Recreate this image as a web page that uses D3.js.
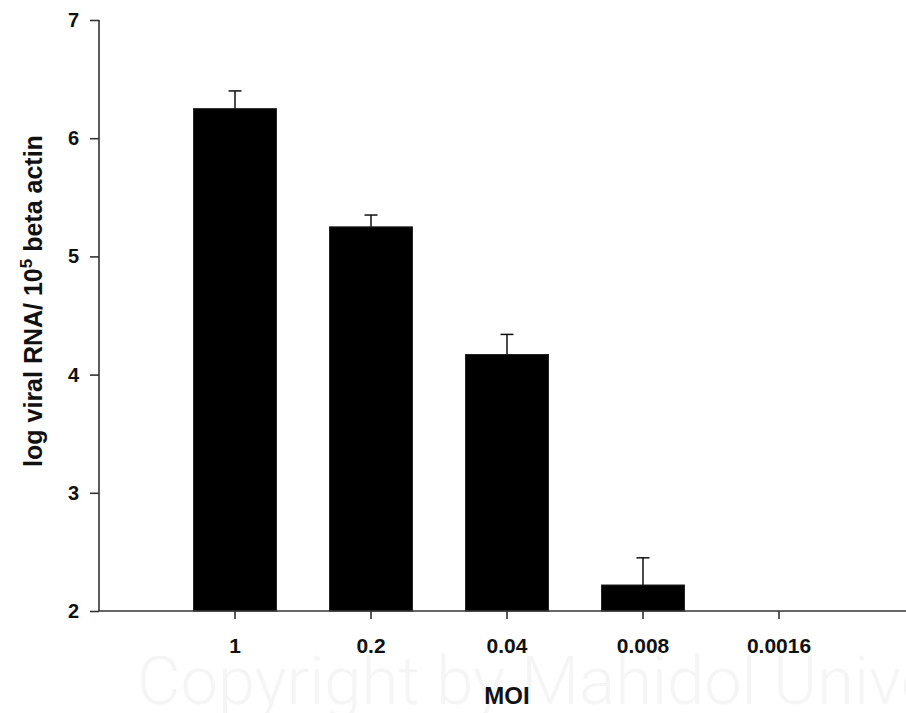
<!DOCTYPE html>
<html>
<head>
<meta charset="utf-8">
<script src="https://cdn.jsdelivr.net/npm/d3@7"></script>
<style>
  html, body { margin: 0; padding: 0; background: #fff; }
  svg { display: block; font-family: "Liberation Sans", Arial, sans-serif; }
</style>
</head>
<body>
<svg id="chart" width="906" height="713"></svg>
<script>
// MOI dilution series and measured log viral RNA per 10^5 beta actin
const categories = ["1", "0.2", "0.04", "0.008", "0.0016"];
const means      = [6.25, 5.25, 4.17, 2.22, null];
const errors     = [0.15, 0.10, 0.17, 0.23, null];
const yTicks     = [2, 3, 4, 5, 6, 7];

const svg = d3.select("#chart");

const axisLeft = 99, axisRight = 906;
const plotTop = 20, plotBottom = 611;

const y = d3.scaleLinear().domain([2, 7]).range([plotBottom, plotTop]);
const x = d3.scaleBand()
  .domain(categories)
  .range([167, 847])
  .paddingInner(0.39)
  .paddingOuter(0.195);

// faint copyright line along the bottom
svg.append("text")
  .attr("x", 137).attr("y", 704)
  .attr("font-size", 67)
  .attr("font-weight", 300)
  .attr("font-family", "Roboto, 'Liberation Sans', sans-serif")
  .attr("fill", "#f5f5f5")
  .text("Copyright by Mahidol University");

const axisColor = "#333";

// bars
const data = categories.map((c, i) => ({ c, v: means[i], e: errors[i] }))
  .filter(d => d.v != null);

svg.append("g").selectAll("rect").data(data).join("rect")
  .attr("x", d => x(d.c))
  .attr("width", x.bandwidth())
  .attr("y", d => y(d.v))
  .attr("height", d => y(2) - y(d.v))
  .attr("fill", "#000")
  .attr("stroke", "#222")
  .attr("stroke-width", 1);

// upper error bars
const eb = svg.append("g").attr("stroke", "#111").attr("stroke-width", 1.5);
eb.selectAll("line.v").data(data).join("line").attr("class", "v")
  .attr("x1", d => x(d.c) + x.bandwidth() / 2)
  .attr("x2", d => x(d.c) + x.bandwidth() / 2)
  .attr("y1", d => y(d.v))
  .attr("y2", d => y(d.v + d.e));
eb.selectAll("line.cap").data(data).join("line").attr("class", "cap")
  .attr("x1", d => x(d.c) + x.bandwidth() / 2 - 6.5)
  .attr("x2", d => x(d.c) + x.bandwidth() / 2 + 6.5)
  .attr("y1", d => y(d.v + d.e))
  .attr("y2", d => y(d.v + d.e));

// y axis
const yAxis = svg.append("g")
  .attr("transform", `translate(${axisLeft},0)`)
  .call(d3.axisLeft(y).tickValues(yTicks).tickFormat(d3.format("d"))
    .tickSize(9).tickPadding(11));
yAxis.select(".domain").attr("d", `M0,${plotTop}V${plotBottom}`);
yAxis.selectAll(".tick text").attr("font-size", 20);

// x axis
const xAxis = svg.append("g")
  .attr("transform", `translate(0,${plotBottom})`)
  .call(d3.axisBottom(x).tickSize(8).tickPadding(19));
xAxis.select(".domain").attr("d", `M${axisLeft},0H${axisRight}`);
xAxis.selectAll(".tick text").attr("font-size", 21);

svg.selectAll(".domain").attr("stroke", axisColor).attr("stroke-width", 1.6);
svg.selectAll(".tick line").attr("stroke", axisColor).attr("stroke-width", 1.6);
svg.selectAll(".tick text")
  .attr("font-weight", "bold").attr("fill", "#111")
  .attr("font-family", "'Liberation Sans', Arial, sans-serif");

// axis titles
svg.append("text")
  .attr("x", x.range()[0] + (x.range()[1] - x.range()[0]) / 2)
  .attr("y", 704)
  .attr("text-anchor", "middle")
  .attr("font-size", 24).attr("font-weight", "bold").attr("fill", "#111")
  .text("MOI");

const yTitle = svg.append("text")
  .attr("transform", "translate(42,301) rotate(-90)")
  .attr("text-anchor", "middle")
  .attr("font-size", 25).attr("font-weight", "bold").attr("fill", "#111");
yTitle.append("tspan").text("log viral RNA/ 10");
yTitle.append("tspan").attr("dy", -10).attr("font-size", 17).text("5");
yTitle.append("tspan").attr("dy", 10).text(" beta actin");
</script>
</body>
</html>
